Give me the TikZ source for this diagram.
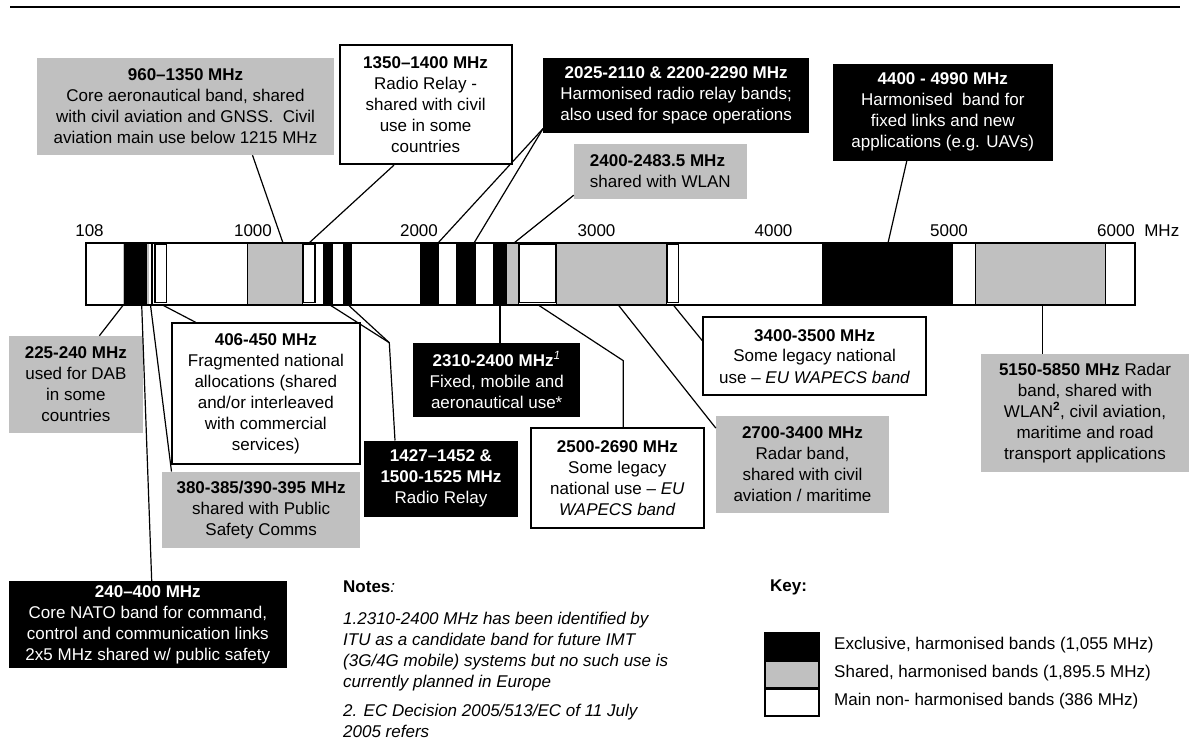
\documentclass[tikz,border=0pt]{standalone}
\usepackage{fontspec}
\setmainfont{Liberation Sans}
\usetikzlibrary{positioning}
\definecolor{silver}{RGB}{192,192,192}

\begin{document}
\begin{tikzpicture}[
x=1pt, y=-1pt,
every node/.style={font=\fontsize{17}{21}\selectfont},
blackbox/.style={fill=black, text=white, align=center, inner sep=0pt},
greybox/.style={fill=silver, align=center, inner sep=0pt},
whitebox/.style={draw, line width=1.8pt, fill=white, align=center, inner sep=0pt},
slot/.style={draw, line width=1.4pt, fill=white},
greyband/.style={fill=silver, draw, line width=0.6pt},
link/.style={line width=1.2pt},
tick/.style={inner sep=0pt},
keybox/.style={draw, line width=1.2pt, minimum width=54pt, minimum height=27pt, inner sep=0pt},
keytext/.style={anchor=west, inner sep=0pt}
]
\useasboundingbox (0,0) rectangle (1197,749);

%Top rule
\draw[line width=2.5pt] (10,7) -- (1180,7);

%Scale
\node[tick] (t108)  at (89.5,231)  {108};
\node[tick] (t1000) at (253,231)   {1000};
\node[tick] (t2000) at (419,231)   {2000};
\node[tick] (t3000) at (596.5,231) {3000};
\node[tick] (t4000) at (773.5,231) {4000};
\node[tick] (t5000) at (949,231)   {5000};
\node[tick] (t6000) at (1116,231)  {6000};
\node[tick] (tmhz)  [right=9pt of t6000] {MHz};

%Bar
\fill[white] (86,243) rectangle (1135,305);
\fill[silver] (122.6,243) rectangle (124.4,305);
\fill (124.4,243) rectangle (147,305);
\fill[silver] (147,243) rectangle (149,305);
\fill (150.5,243) rectangle (152.5,305);
\draw[slot] (155,244.5) rectangle (166.5,302.5);
\draw[greyband] (247,243) rectangle (302.5,305);
\draw[slot] (303,244.5) rectangle (315,302.5);
\fill (323,243) rectangle (333,305);
\fill (343,243) rectangle (351.5,305);
\fill (419.5,243) rectangle (439,305);
\fill (456,243) rectangle (476,305);
\fill (493.3,243) rectangle (506,305);
\draw[greyband] (506,243) rectangle (518,305);
\draw[slot] (519,244.5) rectangle (556,302.5);
\draw[greyband] (556.7,243) rectangle (666.7,305);
\draw[slot] (667,244.5) rectangle (678.5,302.5);
\fill (822,243) rectangle (953,305);
\draw[greyband] (975,243) rectangle (1105,305);
\draw[line width=1.6pt] (86,243) rectangle (1135,305);

%Bar points
\coordinate (b225)  at (123.3,305);
\coordinate (b240)  at (141.7,305);
\coordinate (b380)  at (150.5,305);
\coordinate (b406)  at (162.5,305);
\coordinate (b960)  at (283,243);
\coordinate (b1350) at (309,243);
\coordinate (b1427) at (330,305);
\coordinate (b1500) at (348.3,305);
\coordinate (b2025) at (438,243);
\coordinate (b2200) at (474,243);
\coordinate (b2310) at (500,305);
\coordinate (b2400) at (514,243);
\coordinate (b2500) at (538.3,305);
\coordinate (b2700) at (618.3,305);
\coordinate (b3400) at (673.3,305);
\coordinate (b4400) at (888,243);
\coordinate (b5150) at (1042.7,305);
\coordinate (k1427) at (389.3,342.7);
\coordinate (k2500) at (623.3,360.7);

%Upper labels
\node[greybox, minimum width=297pt, minimum height=97pt] (l960) at (185.5,106.5)
  {\textbf{960–1350 MHz}\\Core aeronautical band, shared\\with civil aviation and GNSS.\ \ Civil\\aviation main use below 1215 MHz};
\node[whitebox, minimum width=172pt, minimum height=119pt] (l1350) at (425.6,104.7)
  {\textbf{1350–1400 MHz}\\Radio Relay -\\shared with civil\\use in some\\countries};
\node[blackbox, minimum width=265.7pt, minimum height=75pt] (l2025) at (676.2,95.8)
  {\textbf{2025-2110 \& 2200-2290 MHz}\\Harmonised radio relay bands;\\also used for space operations};
\node[greybox, align=left, minimum width=172.7pt, minimum height=55pt] (l2400) at (660.3,171.5)
  {\textbf{2400-2483.5 MHz}\\shared with WLAN};
\node[blackbox, minimum width=220pt, minimum height=96.7pt] (l4400) at (942.8,112.3)
  {\textbf{4400 - 4990 MHz}\\Harmonised\ \ band for\\fixed links and new\\applications (e.g. UAVs)};

%Lower labels
\node[greybox, minimum width=133.7pt, minimum height=96.7pt] (l225) at (75.85,384.35)
  {\textbf{225-240 MHz}\\used for DAB\\in some\\countries};
\node[blackbox, minimum width=277.7pt, minimum height=87pt] (l240) at (147.85,624.5)
  {\textbf{240–400 MHz}\\Core NATO band for command,\\control and communication links\\2x5 MHz shared w/ public safety};
\node[greybox, minimum width=197.7pt, minimum height=76pt] (l380) at (261.15,509.7)
  {\textbf{380-385/390-395 MHz}\\shared with Public\\Safety Comms};
\node[whitebox, minimum width=188.3pt, minimum height=140.7pt] (l406) at (265.85,393.65)
  {\textbf{406-450 MHz}\\Fragmented national\\allocations (shared\\and/or interleaved\\with commercial\\services)};
\node[blackbox, minimum width=153.5pt, minimum height=76pt] (l1427) at (441,478.7)
  {\textbf{1427–1452 \&}\\\textbf{1500-1525 MHz}\\Radio Relay};
\node[blackbox, minimum width=166.7pt, minimum height=74.6pt] (l2310) at (496.7,380)
  {\textbf{2310-2400 MHz}\textsuperscript{\textit{1}}\\Fixed, mobile and\\aeronautical use*};
\node[whitebox, minimum width=173.3pt, minimum height=99.4pt] (l2500) at (617.35,478)
  {\textbf{2500-2690 MHz}\\Some legacy\\national use – \textit{EU}\\\textit{WAPECS band}};
\node[greybox, minimum width=173pt, minimum height=96.7pt] (l2700) at (802.5,464.35)
  {\textbf{2700-3400 MHz}\\Radar band,\\shared with civil\\aviation / maritime};
\node[whitebox, minimum width=222.7pt, minimum height=77.7pt] (l3400) at (814.65,356.15)
  {\textbf{3400-3500 MHz}\\Some legacy national\\use – \textit{EU WAPECS band}};
\node[greybox, minimum width=208pt, minimum height=117.7pt] (l5150) at (1085,412.85)
  {\textbf{5150-5850 MHz} Radar\\band, shared with\\WLAN\textsuperscript{\textbf{2}}, civil aviation,\\maritime and road\\transport applications};

%Edges
\draw[link] ([xshift=67pt]l960.south) -- (b960);
\draw[link] ([xshift=-31.6pt]l1350.south) -- (b1350);
\draw[link] ([yshift=5pt]l2025.south west) -- (b2025);
\draw[link] ([yshift=5pt]l2025.south west) -- (b2200);
\draw[link] ([yshift=4pt]l2400.south west) -- (b2400);
\draw[link] ([xshift=-36pt]l4400.south) -- (b4400);
\draw[link] ([xshift=23.5pt]l225.north) -- (b225);
\draw[link] ([xshift=3.85pt]l240.north) -- (b240);
\draw[link] ([xshift=9.4pt]l380.north west) -- (b380);
\draw[link] ([xshift=25pt]l406.north west) -- (b406);
\draw[link] (b1427) -- (k1427) -- ([xshift=-46pt]l1427.north);
\draw[link] (b1500) -- (k1427);
\draw[link] (b2310) -- (b2310 |- l2310.north);
\draw[link] (b2500) -- (k2500) -- (k2500 |- l2500.north);
\draw[link] (b2700) -- ([yshift=-12.3pt]l2700.north west);
\draw[link] (b3400) -- ([yshift=-24.4pt]l3400.north west);
\draw[link] (b5150) -- (b5150 |- l5150.north);

%Notes
\node[anchor=west, inner sep=0pt] (notes) at (343,587) {\textbf{Notes}\textit{:}};
\node[anchor=north west, align=left, inner sep=0pt, font=\fontsize{17}{21}\selectfont\itshape] (notetext) at (343,612)
  {1.2310-2400 MHz has been identified by\\ITU as a candidate band for future IMT\\(3G/4G mobile) systems but no such use is\\currently planned in Europe\\[8pt]2. EC Decision 2005/513/EC of 11 July\\2005 refers};

%Key
\node[anchor=west, inner sep=0pt] (key) at (770,587) {\textbf{Key:}};
\node[keybox, fill=black]  (kblack) at (792,646.5) {};
\node[keybox, fill=silver] (kgrey)  at (792,674.5) {};
\node[keybox, fill=white]  (kwhite) at (792,702.5) {};
\node[keytext] (kblacktext) at (834,645) {Exclusive, harmonised bands (1,055 MHz)};
\node[keytext] (kgreytext)  at (834,673) {Shared, harmonised bands (1,895.5 MHz)};
\node[keytext] (kwhitetext) at (834,701) {Main non- harmonised bands (386 MHz)};

\end{tikzpicture}
\end{document}
